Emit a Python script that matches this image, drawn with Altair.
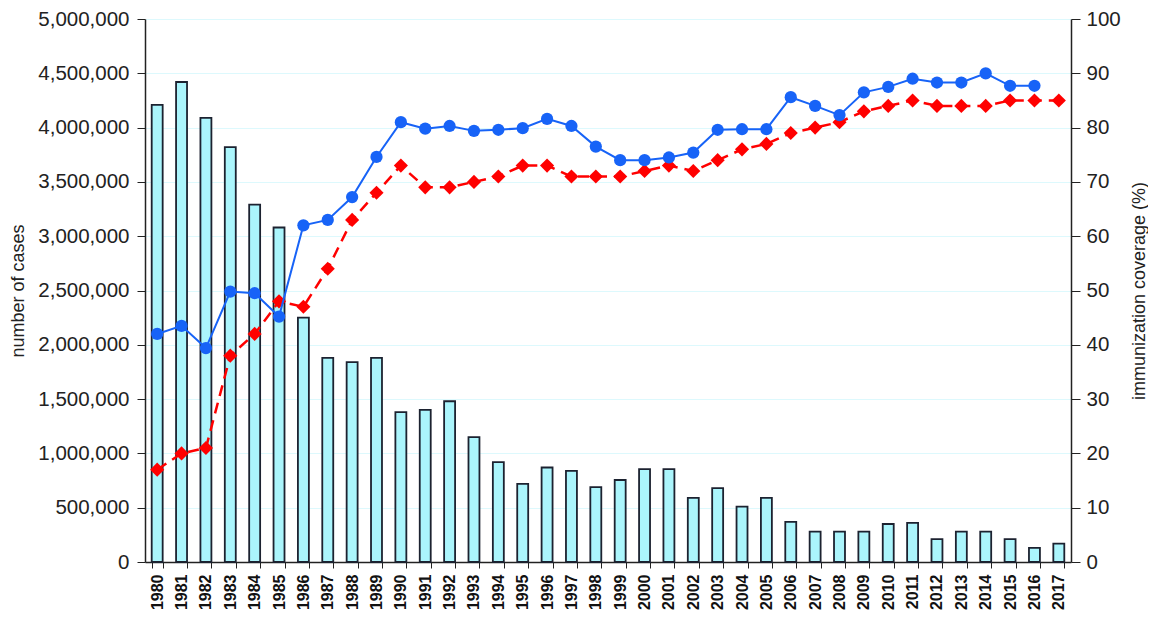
import altair as alt
import pandas as pd

years = ["1980", "1981", "1982", "1983", "1984", "1985", "1986", "1987", "1988", "1989",
         "1990", "1991", "1992", "1993", "1994", "1995", "1996", "1997", "1998", "1999",
         "2000", "2001", "2002", "2003", "2004", "2005", "2006", "2007", "2008", "2009",
         "2010", "2011", "2012", "2013", "2014", "2015", "2016", "2017"]

cases = [4210000, 4420000, 4090000, 3820000, 3290000, 3080000, 2250000, 1880000, 1840000, 1880000,
         1380000, 1400000, 1480000, 1150000, 920000, 720000, 870000, 840000, 690000, 755000,
         856000, 856000, 590000, 680000, 510000, 590000, 370000, 280000, 280000, 280000,
         350000, 360000, 210000, 280000, 280000, 210000, 130000, 170000]

# blue series (solid line, circles) 1980-2016
blue_cov = [42, 43.5, 39.4, 49.8, 49.5, 45.2, 62, 63, 67.2, 74.6,
            81, 79.8, 80.3, 79.4, 79.6, 79.9, 81.6, 80.3, 76.5, 74,
            74, 74.5, 75.4, 79.6, 79.7, 79.7, 85.6, 84, 82.3, 86.5,
            87.5, 89, 88.3, 88.3, 90, 87.7, 87.7]

# red series (dashed line, diamonds) 1980-2017
red_cov = [17, 20, 21, 38, 42, 48, 47, 54, 63, 68,
           73, 69, 69, 70, 71, 73, 73, 71, 71, 71,
           72, 73, 72, 74, 76, 77, 79, 80, 81, 83,
           84, 85, 84, 84, 84, 85, 85, 85]

left_ticks = [0, 500000, 1000000, 1500000, 2000000, 2500000, 3000000, 3500000, 4000000, 4500000, 5000000]
right_ticks = [0, 10, 20, 30, 40, 50, 60, 70, 80, 90, 100]

df_cases = pd.DataFrame({"year": years, "cases": cases})
df_blue = pd.DataFrame({"year": years[:len(blue_cov)], "coverage": blue_cov})
df_red = pd.DataFrame({"year": years, "coverage": red_cov})

FONT = "Liberation Sans"
TXT = "#222222"

xscale = alt.Scale(domain=years, paddingInner=0.55, paddingOuter=0.275)
xaxis = alt.Axis(title=None, labelAngle=270, labelFontSize=16, labelFontWeight="bold",
                 labelFont=FONT, labelColor="#111111", tickBand="extent", tickSize=6,
                 tickColor="#222222", domainColor="#222222", domainWidth=1.5,
                 labelPadding=6, grid=False)
X = alt.X("year:O", scale=xscale, axis=xaxis)

left_axis = alt.Axis(title="number of cases", format=",d", values=left_ticks, grid=True,
                     gridColor="#DDF9FD", gridWidth=1, domainColor="#222222", domainWidth=1.5,
                     tickColor="#222222", tickSize=8, labelFontSize=20.5, labelFont=FONT,
                     labelColor=TXT, labelPadding=8, titleFont=FONT, titleFontSize=18,
                     titleFontWeight="normal", titleColor=TXT, titleX=-127, titleY=271.5,
                     titleAngle=270, titleBaseline="middle", titleAlign="center")

right_axis = alt.Axis(orient="right", title="immunization coverage (%)", values=right_ticks,
                      grid=False, domainColor="#222222", domainWidth=1.5, tickColor="#222222",
                      tickSize=9, labelFontSize=20.5, labelFont=FONT, labelColor=TXT, labelPadding=6,
                      titleFont=FONT, titleFontSize=18, titleFontWeight="normal", titleColor=TXT,
                      titleX=68, titleY=271.5, titleAngle=270, titleBaseline="middle",
                      titleAlign="center")

bars = alt.Chart(df_cases).mark_bar(fill="#ABF5FC", stroke="#1C2230", strokeWidth=1.8).encode(
    x=X,
    y=alt.Y("cases:Q", scale=alt.Scale(domain=[0, 5000000], nice=False), axis=left_axis),
)

Ycov = alt.Y("coverage:Q", scale=alt.Scale(domain=[0, 100], nice=False), axis=right_axis)

red_line = alt.Chart(df_red).mark_line(color="#FF0000", strokeWidth=2.5, strokeDash=[11, 7]).encode(x=X, y=Ycov)
red_pts = alt.Chart(df_red).mark_point(shape="diamond", filled=True, size=200, color="#FF0000", opacity=1).encode(x=X, y=Ycov)
blue_line = alt.Chart(df_blue).mark_line(color="#1763F7", strokeWidth=2).encode(x=X, y=Ycov)
blue_pts = alt.Chart(df_blue).mark_point(shape="circle", filled=True, size=150, color="#1763F7", opacity=1).encode(x=X, y=Ycov)

cov = alt.layer(red_line, red_pts, blue_line, blue_pts)

chart = alt.layer(bars, cov).resolve_scale(y="independent").properties(
    width=926, height=543,
    autosize=alt.AutoSizeParams(type="none"),
    padding={"left": 137, "top": 11, "right": 77, "bottom": 49},
    background="white",
).configure_view(stroke=None)

chart.save("out.html", embed_options={"renderer": "svg", "actions": False})
